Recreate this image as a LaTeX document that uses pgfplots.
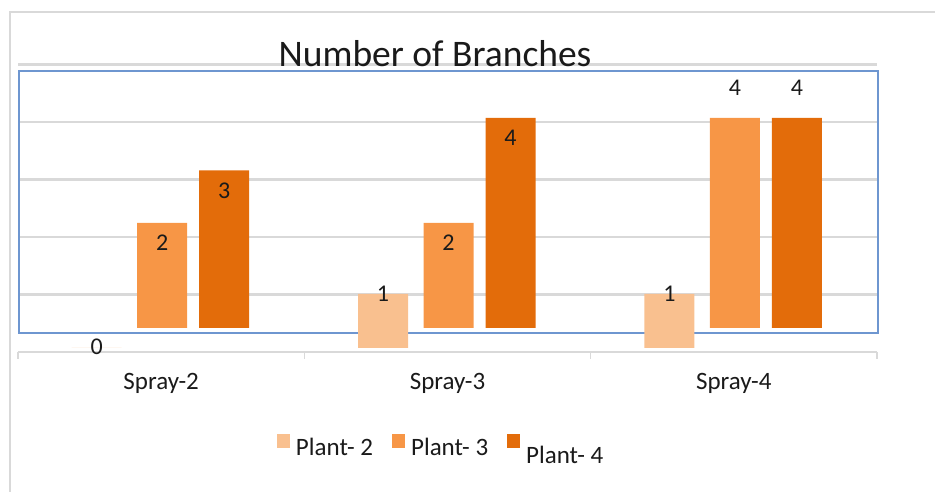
\documentclass[border=0pt]{standalone}
\usepackage{pgfplots}
\pgfplotsset{compat=1.18}
\usepackage{pgfplotstable}
\usepackage{fontspec}
\setmainfont{Carlito}
\definecolor{cA}{HTML}{F9C08F}
\definecolor{cB}{HTML}{F79646}
\definecolor{cC}{HTML}{E36C0A}
\definecolor{gridc}{HTML}{D9D9D9}
\definecolor{framec}{HTML}{6E96D0}
\definecolor{txt}{HTML}{1A1A1A}
\pgfplotstableread{
x y off
0 0 1
1 1 0
2 1 0
}\plantA
\pgfplotstableread{
x y off
0 2 -20
1 2 -20
2 4 30
}\plantB
\pgfplotstableread{
x y off
0 3 -20
1 4 -20
2 4 30
}\plantC
\begin{document}
\begin{tikzpicture}[x=1pt,y=1pt]
\useasboundingbox (0,0) rectangle (935,492);
\draw[gridc, line width=2pt] (10,0) -- (10,480) -- (935,480);
% main axis: gridlines, baseline, category labels
\begin{axis}[
  at={(18pt,140pt)}, anchor=south west, scale only axis,
  width=859pt, height=287.5pt,
  xmin=-0.5, xmax=2.5, ymin=0, ymax=5,
  axis x line*=bottom, axis y line*=left,
  x axis line style={draw=gridc, line width=2pt, -},
  y axis line style={draw=none},
  xtick={0,1,2}, xticklabels={Spray-2,Spray-3,Spray-4},
  minor xtick={-0.5,0.5,1.5,2.5},
  major tick length=0pt, minor tick length=7pt, tick align=outside,
  minor tick style={draw=gridc, line width=1.5pt},
  xticklabel style={anchor=base, yshift=-38pt, font=\fontsize{25}{28}\selectfont, text=txt},
  ytick={1,2,3,4,5}, yticklabels={},
  ymajorgrids, major grid style={draw=gridc, line width=2.5pt},
]
\addplot[draw=none] coordinates {(0,0)};
\end{axis}
% blue framed plot area with Plant-3 and Plant-4
\begin{axis}[
  at={(19pt,159pt)}, anchor=south west, scale only axis,
  width=859pt, height=262pt,
  xmin=-0.5, xmax=2.5, ymin=-0.0952, ymax=4.895,
  xtick=\empty, ytick=\empty, clip=false,
  axis line style={draw=framec, line width=1.8pt},
  ybar, bar width=50pt,
  /pgf/number format/assume math mode=true,
  nodes near coords,
  visualization depends on={\thisrow{off} \as \myoff},
  every node near coord/.append style={anchor=center, yshift=\myoff pt, font=\fontsize{24}{26}\selectfont, text=txt},
]
\addplot[fill=cB, draw=none, bar shift=0pt] table[x=x,y=y] {\plantB};
\addplot[fill=cC, draw=none, bar shift=62pt] table[x=x,y=y] {\plantC};
\end{axis}
% Plant-2 and legend
\begin{axis}[
  at={(18pt,144pt)}, anchor=south west, scale only axis,
  width=859pt, height=270pt,
  xmin=-0.5, xmax=2.5, ymin=0, ymax=5,
  hide axis, clip=false,
  ybar, bar width=50pt,
  /pgf/number format/assume math mode=true,
  nodes near coords,
  visualization depends on={\thisrow{off} \as \myoff},
  every node near coord/.append style={anchor=center, yshift=\myoff pt, font=\fontsize{24}{26}\selectfont, text=txt},
  legend style={at={(axis description cs:0.3015,-0.318)}, anchor=north west,
    draw=none, fill=none, legend columns=3, font=\fontsize{25}{28}\selectfont,
    text=txt, inner sep=0pt, outer sep=0pt, nodes={inner sep=0pt},
    /tikz/every odd column/.append style={column sep=6pt},
    /tikz/every even column/.append style={column sep=19pt}},
  legend image code/.code={\fill[#1] (0pt,0pt) rectangle (13pt,14pt);},
]
\addplot[fill=cA, draw=none, bar shift=-64.5pt, forget plot] table[x=x,y=y] {\plantA};
\addlegendimage{fill=cA, draw=none}
\addlegendentry{Plant- 2}
\addlegendimage{fill=cB, draw=none}
\addlegendentry{Plant- 3}
\addlegendimage{fill=cC, draw=none}
\addlegendentry{\raisebox{-15pt}{Plant- 4}}
\end{axis}
\node[anchor=base, font=\fontsize{37.5}{40}\selectfont, text=txt] at (435,425) {Number of Branches};
\end{tikzpicture}
\end{document}
